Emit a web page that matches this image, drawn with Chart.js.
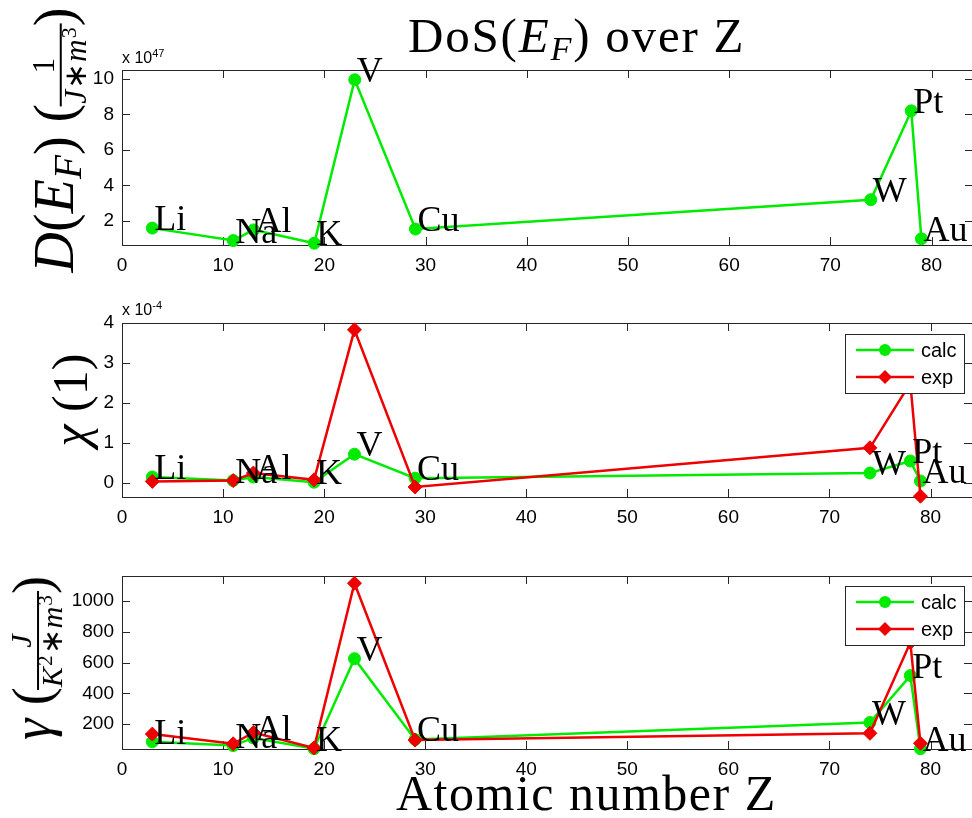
<!DOCTYPE html>
<html>
<head>
<meta charset="utf-8">
<script src="https://cdn.jsdelivr.net/npm/chart.js@4.4.0/dist/chart.umd.min.js"></script>
<style>
html, body { margin: 0; padding: 0; background: #fff; width: 972px; height: 818px; overflow: hidden; }
#wrap { position: relative; width: 972px; height: 818px; }
canvas { position: absolute; left: 0; top: 0; }
.tex { position: absolute; font-family: "Liberation Serif", serif; color: #000; white-space: nowrap; line-height: 1; }
.tex sub { font-size: 0.7em; vertical-align: -0.22em; line-height: 0; }
.tex sup { font-size: 0.7em; vertical-align: 0.45em; line-height: 0; }
.rot { transform: translate(-50%, -50%) rotate(-90deg); }
.frac { display: inline-flex; flex-direction: column; align-items: center; vertical-align: middle; font-size: 0.56em; line-height: 0.92; letter-spacing: 1px; }
.frac .num { border-bottom: 2px solid #000; padding: 0 3px 1px; width: 100%; text-align: center; }
.expo { position: absolute; font-family: "Liberation Sans", Arial, sans-serif; font-size: 16px; line-height: 1; color: #000; }
.expo sup { font-size: 11px; vertical-align: 6px; line-height: 0; }
</style>
</head>
<body>
<div id="wrap">
  <canvas id="dosChart" width="980" height="818"></canvas>
  <canvas id="chiChart" width="980" height="818"></canvas>
  <canvas id="gammaChart" width="980" height="818"></canvas>

  <div class="tex" style="left:408px; top:11px; font-size:49px; letter-spacing:1.8px;">DoS(<i>E</i><sub><i>F</i></sub>) over Z</div>
  <div class="tex" style="left:396px; top:768px; font-size:50px; letter-spacing:1.5px;">Atomic number Z</div>

  <div class="tex rot" style="left:58px; top:140px; font-size:56px;"><i>D</i>(<i>E</i><sub><i>F</i></sub>) (<span class="frac"><span class="num">1</span><span><i>J</i>∗<i>m</i><sup>3</sup></span></span>)</div>
  <div class="tex rot" style="left:70px; top:400px; font-size:50px;"><i>χ</i> (1)</div>
  <div class="tex rot" style="left:36px; top:658px; font-size:54px;"><i>γ</i> (<span class="frac"><span class="num"><i>J</i></span><span><i>K</i><sup>2</sup>∗<i>m</i><sup>3</sup></span></span>)</div>

  <div class="expo" style="left:122px; top:50px;">x 10<sup>47</sup></div>
  <div class="expo" style="left:122px; top:302px;">x 10<sup>-4</sup></div>
</div>

<script>
// values
const elements = ["Li", "Na", "Al", "K", "V", "Cu", "W", "Pt", "Au"];
const atomicZ = [3, 11, 13, 19, 23, 29, 74, 78, 79];

// D(E_F) in units of 1e47 1/(J*m^3)
const dosCalc = [1.6, 0.9, 1.5, 0.75, 9.95, 1.55, 3.2, 8.2, 1.0];

// chi in units of 1e-4
const chiCalc = [0.15, 0.06, 0.15, 0.02, 0.72, 0.12, 0.25, 0.55, 0.05];
const chiExp = [0.04, 0.06, 0.25, 0.08, 3.83, -0.1, 0.88, 2.5, -0.33];

// gamma in J/(K^2*m^3)
const gammaCalc = [85, 60, 110, 40, 625, 100, 210, 515, 40];
const gammaExp = [135, 72, 145, 45, 1115, 96, 140, 730, 75];

const xTicks = [0, 10, 20, 30, 40, 50, 60, 70, 80];
const dosTicks = [2, 4, 6, 8, 10];
const chiTicks = [0, 1, 2, 3, 4];
const gammaTicks = [200, 400, 600, 800, 1000];

const GREEN = "rgb(0,235,0)";
const RED = "rgb(238,0,0)";
const AXIS = "#262626";

Chart.defaults.font.family = '"Liberation Sans", Arial, sans-serif';
Chart.defaults.font.size = 19;
Chart.defaults.color = "#000";

// matlab style box with inward ticks, element names, small legend
const matlabLook = {
  id: "matlabLook",
  beforeDatasetsDraw(chart) {
    const { ctx, chartArea: a, scales } = chart;
    ctx.save();
    ctx.strokeStyle = AXIS;
    ctx.lineWidth = 1;
    ctx.strokeRect(a.left + 0.5, a.top + 0.5, a.right - a.left, a.bottom - a.top);
    ctx.beginPath();
    scales.x.ticks.forEach(t => {
      const px = Math.round(scales.x.getPixelForValue(t.value)) + 0.5;
      ctx.moveTo(px, a.bottom); ctx.lineTo(px, a.bottom - 8);
      ctx.moveTo(px, a.top); ctx.lineTo(px, a.top + 8);
    });
    scales.y.ticks.forEach(t => {
      const py = Math.round(scales.y.getPixelForValue(t.value)) + 0.5;
      ctx.moveTo(a.left, py); ctx.lineTo(a.left + 8, py);
      ctx.moveTo(a.right, py); ctx.lineTo(a.right - 8, py);
    });
    ctx.stroke();
    ctx.restore();
  },
  afterDatasetsDraw(chart) {
    const { ctx } = chart;
    const meta = chart.getDatasetMeta(0);
    ctx.save();
    ctx.fillStyle = "#000";
    ctx.font = '36px "Liberation Serif", serif';
    ctx.textAlign = "left";
    ctx.textBaseline = "alphabetic";
    meta.data.forEach((pt, i) => {
      ctx.fillText(elements[i], pt.x + 2, pt.y + 2);
    });
    ctx.restore();
  },
  afterDraw(chart, args, opts) {
    if (!opts.show) return;
    const { ctx, chartArea: a } = chart;
    const w = 119, h = 59;
    const left = a.right - 8 - w, top = a.top + opts.offset;
    ctx.save();
    ctx.fillStyle = "#fff";
    ctx.fillRect(left, top, w, h);
    ctx.strokeStyle = AXIS;
    ctx.lineWidth = 1;
    ctx.strokeRect(left + 0.5, top + 0.5, w, h);
    chart.data.datasets.forEach((ds, i) => {
      const y = top + 16 + i * 27;
      ctx.strokeStyle = ds.borderColor;
      ctx.lineWidth = 2.5;
      ctx.beginPath();
      ctx.moveTo(left + 11, y); ctx.lineTo(left + 69, y);
      ctx.stroke();
      ctx.fillStyle = ds.borderColor;
      ctx.beginPath();
      if (ds.pointStyle === "circle") {
        ctx.arc(left + 40, y, 6, 0, Math.PI * 2);
      } else {
        ctx.moveTo(left + 40, y - 7); ctx.lineTo(left + 47, y);
        ctx.lineTo(left + 40, y + 7); ctx.lineTo(left + 33, y);
        ctx.closePath();
      }
      ctx.fill();
      ctx.fillStyle = "#000";
      ctx.font = '20px "Liberation Sans", Arial, sans-serif';
      ctx.textBaseline = "middle";
      ctx.fillText(ds.label, left + 76, y + 1);
    });
    ctx.restore();
  }
};

function series(label, values, color, style, order) {
  return {
    label: label,
    data: atomicZ.map((z, i) => ({ x: z, y: values[i] })),
    borderColor: color,
    backgroundColor: color,
    borderWidth: 2.5,
    pointStyle: style,
    pointRadius: style === "circle" ? 6 : 7,
    pointBorderWidth: 1,
    tension: 0,
    clip: false,
    order: order
  };
}

function makePanel(id, top, bottom, yMin, yMax, yTicks, datasets, legend) {
  return new Chart(document.getElementById(id), {
    type: "line",
    data: { datasets: datasets },
    options: {
      responsive: false,
      animation: false,
      events: [],
      layout: { padding: { left: 0, right: 7, top: top, bottom: 818 - bottom - 30 } },
      plugins: {
        legend: { display: false },
        tooltip: { enabled: false },
        matlabLook: legend
      },
      scales: {
        x: {
          type: "linear",
          min: 0,
          max: 84.1,
          afterBuildTicks: s => { s.ticks = xTicks.map(v => ({ value: v })); },
          afterFit: s => { s.height = 30; },
          grid: { display: false, drawTicks: false },
          border: { display: false },
          ticks: { padding: 9, maxRotation: 0, callback: v => String(v) }
        },
        y: {
          min: yMin,
          max: yMax,
          afterBuildTicks: s => { s.ticks = yTicks.map(v => ({ value: v })); },
          afterFit: s => { s.width = 122; },
          grid: { display: false, drawTicks: false },
          border: { display: false },
          ticks: { padding: 8, callback: v => String(v) }
        }
      }
    },
    plugins: [matlabLook]
  });
}

makePanel("dosChart", 70, 245, 0.65, 10.5, dosTicks,
  [series("calc", dosCalc, GREEN, "circle", 1)],
  { show: false });

makePanel("chiChart", 323, 497, -0.35, 4, chiTicks,
  [series("calc", chiCalc, GREEN, "circle", 1), series("exp", chiExp, RED, "rectRot", 0)],
  { show: true, offset: 11 });

makePanel("gammaChart", 576, 749, 38, 1162, gammaTicks,
  [series("calc", gammaCalc, GREEN, "circle", 1), series("exp", gammaExp, RED, "rectRot", 0)],
  { show: true, offset: 10 });
</script>
</body>
</html>
